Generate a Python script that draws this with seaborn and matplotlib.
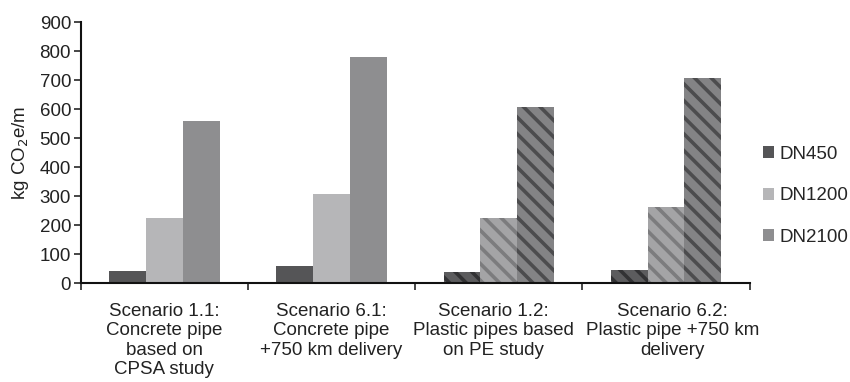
import numpy as np
import pandas as pd
import seaborn as sns
import matplotlib.pyplot as plt
from matplotlib.patches import Patch

scenarios = [
    "Scenario 1.1:\nConcrete pipe\nbased on\nCPSA study",
    "Scenario 6.1:\nConcrete pipe\n+750 km delivery",
    "Scenario 1.2:\nPlastic pipes based\non PE study",
    "Scenario 6.2:\nPlastic pipe +750 km\ndelivery",
]
series = ["DN450", "DN1200", "DN2100"]
dn450 = [42, 60, 39, 45]
dn1200 = [224, 307, 226, 261]
dn2100 = [559, 779, 606, 709]

colors = ["#555557", "#b6b6b8", "#8e8e90"]
hatch_face = ["#5c5c5e", "#a4a4a6", "#838385"]
hatch_line = ["#323234", "#7c7c7e", "#4c4c4e"]

df = pd.DataFrame({
    "scenario": scenarios * 3,
    "size": [s for s in series for _ in scenarios],
    "value": dn450 + dn1200 + dn2100,
})

sns.set_style("white")
plt.rcParams['font.family'] = ['Liberation Sans', 'DejaVu Sans']
plt.rcParams['hatch.linewidth'] = 2.6

fig = plt.figure(figsize=(8.5, 3.82), dpi=100)
ax = fig.add_axes([0.095, 0.259, 0.787, 0.683])

sns.barplot(data=df, x="scenario", y="value", hue="size", order=scenarios,
            hue_order=series, palette=colors, width=0.66, saturation=1,
            errorbar=None, legend=False, ax=ax, linewidth=0)

# plastic scenarios get diagonal stripes
for i, cont in enumerate(ax.containers):
    for j, bar in enumerate(cont):
        if j >= 2:
            bar.set_facecolor(hatch_face[i])
            bar.set_edgecolor(hatch_line[i])
            bar.set_hatch("\\\\")
            bar.set_linewidth(0)

fs = 13.5
ax.set_ylim(0, 900)
ax.set_xlim(-0.5, 3.5)
ax.set_yticks(range(0, 901, 100))
ax.set_xticks([-0.5, 0.5, 1.5, 2.5, 3.5])
ax.set_xticklabels([])
# labels nudged apart a little where the two long ones would touch
ax.set_xticks([0, 1, 1.97, 3.04], minor=True)
ax.set_xticklabels(scenarios, minor=True, fontsize=fs, color="#222222",
                   linespacing=1.2)
ax.tick_params(axis="x", which="major", direction="out", length=5, width=1.2, bottom=True)
ax.tick_params(axis="x", which="minor", length=0, pad=14)
ax.tick_params(axis="y", direction="out", length=5, width=1.2, left=True, pad=2,
               labelsize=fs, labelcolor="#222222")
ax.set_xlabel("")
ax.set_ylabel("kg CO$_2$e/m", fontsize=fs, color="#222222", labelpad=6)

sns.despine(ax=ax)
for sp in ["left", "bottom"]:
    ax.spines[sp].set_color("#111111")
    ax.spines[sp].set_linewidth(1.5)

handles = [Patch(facecolor=c, edgecolor="none") for c in colors]
ax.legend(handles, series, loc="center left", bbox_to_anchor=(1.0, 0.335),
          frameon=False, fontsize=fs, handlelength=0.6, handleheight=0.6,
          handletextpad=0.3, labelspacing=1.3, borderaxespad=0.3)

fig.savefig("out.png", dpi=100)
